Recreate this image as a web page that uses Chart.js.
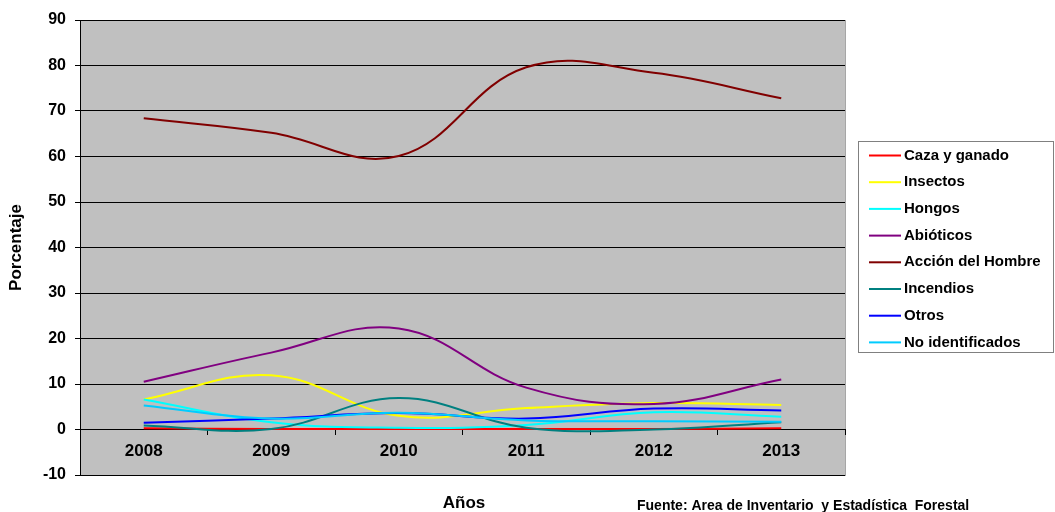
<!DOCTYPE html>
<html>
<head>
<meta charset="utf-8">
<script src="https://cdn.jsdelivr.net/npm/chart.js@4.4.1/dist/chart.umd.min.js"></script>
<style>
  html, body { margin: 0; padding: 0; background: #fff; }
  #wrap { position: relative; width: 1055px; height: 512px; }
</style>
</head>
<body>
<div id="wrap"><canvas id="chart" width="1055" height="512"></canvas></div>
<script>
// Datos
const years = ["2008", "2009", "2010", "2011", "2012", "2013"];
const cazaGanado = [0.3, 0.1, 0.1, 0.1, 0.1, 0.3];
const insectos = [6.6, 11.9, 3.0, 4.7, 5.8, 5.4];
const hongos = [6.6, 1.6, 0.4, 1.0, 3.8, 2.8];
const abioticos = [10.5, 16.9, 22.2, 9.2, 5.6, 11.0];
const accionHombre = [68.4, 65.2, 60.1, 79.6, 78.4, 72.8];
const incendios = [0.9, 0.1, 6.9, 0.4, 0.0, 1.6];
const otros = [1.5, 2.4, 3.6, 2.4, 4.6, 4.2];
const noIdentificados = [5.3, 2.4, 3.7, 2.0, 1.8, 1.7];
const yTicks = [-10, 0, 10, 20, 30, 40, 50, 60, 70, 80, 90];

const FONT = "'Liberation Sans', Arial, sans-serif";

const series = [
  { label: "Caza y ganado", data: cazaGanado, color: "#ff0000" },
  { label: "Insectos", data: insectos, color: "#ffff00" },
  { label: "Hongos", data: hongos, color: "#00ffff" },
  { label: "Abióticos", data: abioticos, color: "#800080" },
  { label: "Acción del Hombre", data: accionHombre, color: "#800000" },
  { label: "Incendios", data: incendios, color: "#008080" },
  { label: "Otros", data: otros, color: "#0000ff" },
  { label: "No identificados", data: noIdentificados, color: "#00ccff" }
];

// Fondo gris del área de trazado
const plotBackground = {
  id: "plotBackground",
  beforeDraw(chart) {
    const { ctx, chartArea: a } = chart;
    ctx.save();
    ctx.fillStyle = "#c0c0c0";
    ctx.fillRect(a.left, a.top, a.right - a.left, a.bottom - a.top);
    ctx.strokeStyle = "#a6a6a6";
    ctx.lineWidth = 1;
    ctx.strokeRect(a.left + 0.5, a.top + 0.5, a.right - a.left, a.bottom - a.top);
    ctx.restore();
  }
};

// Leyenda con marco y textos inferiores
const boxLegend = {
  id: "boxLegend",
  afterDraw(chart) {
    const ctx = chart.ctx;
    ctx.save();
    ctx.fillStyle = "#fff";
    ctx.fillRect(858, 141, 195, 211);
    ctx.strokeStyle = "#808080";
    ctx.lineWidth = 1;
    ctx.strokeRect(858.5, 141.5, 195, 211);

    ctx.font = "bold 15px " + FONT;
    ctx.textBaseline = "middle";
    ctx.textAlign = "left";
    series.forEach((s, i) => {
      const y = 155.5 + i * 26.7;
      ctx.strokeStyle = s.color;
      ctx.lineWidth = 2;
      ctx.beginPath();
      ctx.moveTo(869, y);
      ctx.lineTo(901, y);
      ctx.stroke();
      ctx.fillStyle = "#000";
      ctx.fillText(s.label, 904, y);
    });

    ctx.font = "bold 17px " + FONT;
    ctx.textAlign = "center";
    ctx.fillText("Años", 464, 503);
    ctx.font = "bold 14px " + FONT;
    ctx.textAlign = "left";
    ctx.fillText("Fuente: Area de Inventario  y Estadística  Forestal", 637, 506);
    ctx.restore();
  }
};

new Chart(document.getElementById("chart"), {
  type: "line",
  data: {
    labels: years,
    datasets: series.map((s, i) => ({
      label: s.label,
      data: s.data,
      borderColor: s.color,
      backgroundColor: s.color,
      borderWidth: 2,
      pointRadius: 0,
      tension: 0.4,
      fill: false,
      order: series.length - i
    }))
  },
  options: {
    responsive: false,
    animation: false,
    layout: { padding: { top: 20, right: 210, bottom: 37, left: 0 } },
    plugins: {
      legend: { display: false },
      tooltip: { enabled: false }
    },
    scales: {
      x: {
        position: { y: 0 },
        offset: true,
        grid: {
          drawOnChartArea: false,
          drawTicks: true,
          tickLength: 5,
          tickColor: "#000",
          offset: true
        },
        border: { display: true, color: "#000", width: 1 },
        ticks: {
          color: "#000",
          padding: 7,
          font: { family: FONT, size: 17, weight: "bold" }
        }
      },
      y: {
        min: -10,
        max: 90,
        afterFit: s => { s.width = 80; },
        afterBuildTicks: s => { s.ticks = yTicks.map(v => ({ value: v })); },
        grid: {
          color: "#000",
          lineWidth: 1,
          drawTicks: true,
          tickLength: 5,
          tickColor: "#000"
        },
        border: { display: true, color: "#000", width: 1 },
        ticks: {
          color: "#000",
          padding: 9,
          font: { family: FONT, size: 16, weight: "bold" }
        },
        title: {
          display: true,
          text: "Porcentaje",
          color: "#000",
          padding: { top: 6, bottom: 0 },
          font: { family: FONT, size: 17, weight: "bold" }
        }
      }
    }
  },
  plugins: [plotBackground, boxLegend]
});
</script>
</body>
</html>
